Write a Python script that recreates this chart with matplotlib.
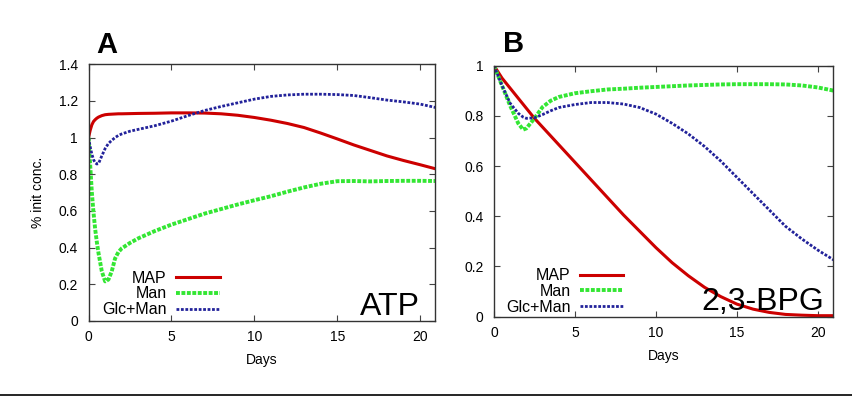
import numpy as np
import matplotlib.pyplot as plt
from matplotlib.lines import Line2D

plt.rcParams['font.family'] = ['Liberation Sans', 'DejaVu Sans']

# panel A: ATP
atp_days = [0, 0.1, 0.2, 0.3, 0.4, 0.5, 0.6, 0.8, 1.0, 1.2, 1.4, 1.6, 1.8, 2.0, 2.5, 3, 4, 5, 6,
            7, 8, 9, 10, 11, 12, 13, 14, 15, 16, 17, 18, 19, 20, 21]
atp_map = [1.0, 1.04, 1.07, 1.088, 1.098, 1.106, 1.112, 1.12, 1.125, 1.127, 1.128, 1.129, 1.13,
           1.13, 1.131, 1.132, 1.133, 1.135, 1.135, 1.134, 1.13, 1.122, 1.11, 1.095, 1.077,
           1.055, 1.025, 0.993, 0.96, 0.93, 0.9, 0.875, 0.852, 0.828]
atp_man = [1.0, 0.85, 0.70, 0.59, 0.50, 0.43, 0.37, 0.27, 0.215, 0.225, 0.27, 0.34, 0.375, 0.395,
           0.425, 0.45, 0.49, 0.525, 0.555, 0.585, 0.61, 0.635, 0.658, 0.68, 0.705, 0.728, 0.748,
           0.762, 0.763, 0.761, 0.763, 0.764, 0.764, 0.763]
atp_glc = [1.0, 0.95, 0.91, 0.88, 0.863, 0.856, 0.858, 0.9, 0.94, 0.968, 0.985, 1.0, 1.012, 1.02,
           1.035, 1.045, 1.065, 1.09, 1.12, 1.148, 1.17, 1.19, 1.21, 1.225, 1.233, 1.237, 1.237,
           1.235, 1.23, 1.218, 1.205, 1.195, 1.183, 1.163]

# panel B: 2,3-BPG
bpg_days = [0, 0.5, 1, 1.5, 1.8, 2.0, 2.5, 3, 3.5, 4, 5, 6, 7, 8, 9, 10, 11, 12, 13, 14, 15,
            16, 17, 18, 19, 20, 21]
bpg_map = [1.0, 0.95, 0.91, 0.87, 0.846, 0.83, 0.79, 0.755, 0.72, 0.685, 0.615, 0.545, 0.475,
           0.405, 0.34, 0.275, 0.215, 0.163, 0.117, 0.08, 0.05, 0.03, 0.017, 0.009, 0.006,
           0.004, 0.004]
bpg_man = [1.0, 0.92, 0.84, 0.77, 0.745, 0.75, 0.79, 0.835, 0.86, 0.875, 0.89, 0.898, 0.905,
           0.908, 0.912, 0.915, 0.918, 0.921, 0.923, 0.925, 0.926, 0.926, 0.926, 0.925, 0.921,
           0.913, 0.9]
bpg_glc = [1.0, 0.92, 0.85, 0.81, 0.795, 0.79, 0.792, 0.805, 0.82, 0.833, 0.845, 0.853, 0.853,
           0.847, 0.833, 0.807, 0.77, 0.728, 0.678, 0.62, 0.555, 0.49, 0.425, 0.36, 0.31,
           0.265, 0.225]

red = '#cc0000'
green = '#33e633'
blue = '#22229a'

fig = plt.figure(figsize=(8.53, 3.96), dpi=100)
axA = fig.add_axes([0.1038, 0.190, 0.4062, 0.6475])
axB = fig.add_axes([0.5791, 0.2003, 0.3978, 0.634])


def style(ax):
    for s in ax.spines.values():
        s.set_color('#333333')
        s.set_linewidth(1.0)
    ax.tick_params(direction='in', length=4, width=0.8, color='#444444', top=True, right=True,
                   labelsize=10)
    ax.tick_params(axis='y', pad=7.5)
    ax.tick_params(axis='x', pad=7)
    ax.set_xlabel('Days', fontsize=10, labelpad=6)


def draw(ax, days, m, n, g):
    ax.plot(days, m, color=red, lw=2.2, label='MAP')
    ax.plot(days, n, color=green, lw=2.8, ls=(0, (1, 0.4)), label='Man')
    ax.plot(days, g, color=blue, lw=2.0, ls=(0, (1, 0.6)), label='Glc+Man')


def legend(ax, x, y):
    ax.legend(loc='center', bbox_to_anchor=(x, y), frameon=False, markerfirst=False,
              fontsize=11.5, handlelength=2.7, handletextpad=0.6, labelspacing=0.05,
              borderpad=0)


draw(axA, atp_days, atp_map, atp_man, atp_glc)
axA.set_xlim(0, 20.9)
axA.set_ylim(0, 1.4)
axA.set_xticks([0, 5, 10, 15, 20])
axA.set_yticks([0, 0.2, 0.4, 0.6, 0.8, 1.0, 1.2, 1.4])
axA.set_yticklabels(['0', '0.2', '0.4', '0.6', '0.8', '1', '1.2', '1.4'])
style(axA)
axA.set_ylabel('% init conc.', fontsize=10, labelpad=10)
legend(axA, 0.209, 0.105)
axA.text(0.957, 0.022, 'ATP', transform=axA.transAxes, ha='right', va='baseline', fontsize=23)
fig.text(106.5 / 853, 1 - 53 / 396, 'A', ha='center', va='baseline', fontsize=21,
         fontweight='bold')

draw(axB, bpg_days, bpg_map, bpg_man, bpg_glc)
axB.set_xlim(0, 20.95)
axB.set_ylim(0, 1.0)
axB.set_xticks([0, 5, 10, 15, 20])
axB.set_yticks([0, 0.2, 0.4, 0.6, 0.8, 1.0])
axB.set_yticklabels(['0', '0.2', '0.4', '0.6', '0.8', '1'])
style(axB)
legend(axB, 0.208, 0.10)
axB.text(0.9726, 0.027, '2,3-BPG', transform=axB.transAxes, ha='right', va='baseline',
         fontsize=23)
fig.text(514 / 853, 1 - 52 / 396, 'B', ha='center', va='baseline', fontsize=21,
         fontweight='bold')

fig.add_artist(Line2D([0, 1], [0.0025, 0.0025], color='black', lw=1.2,
                      transform=fig.transFigure))

fig.savefig('out.png', dpi=100)
